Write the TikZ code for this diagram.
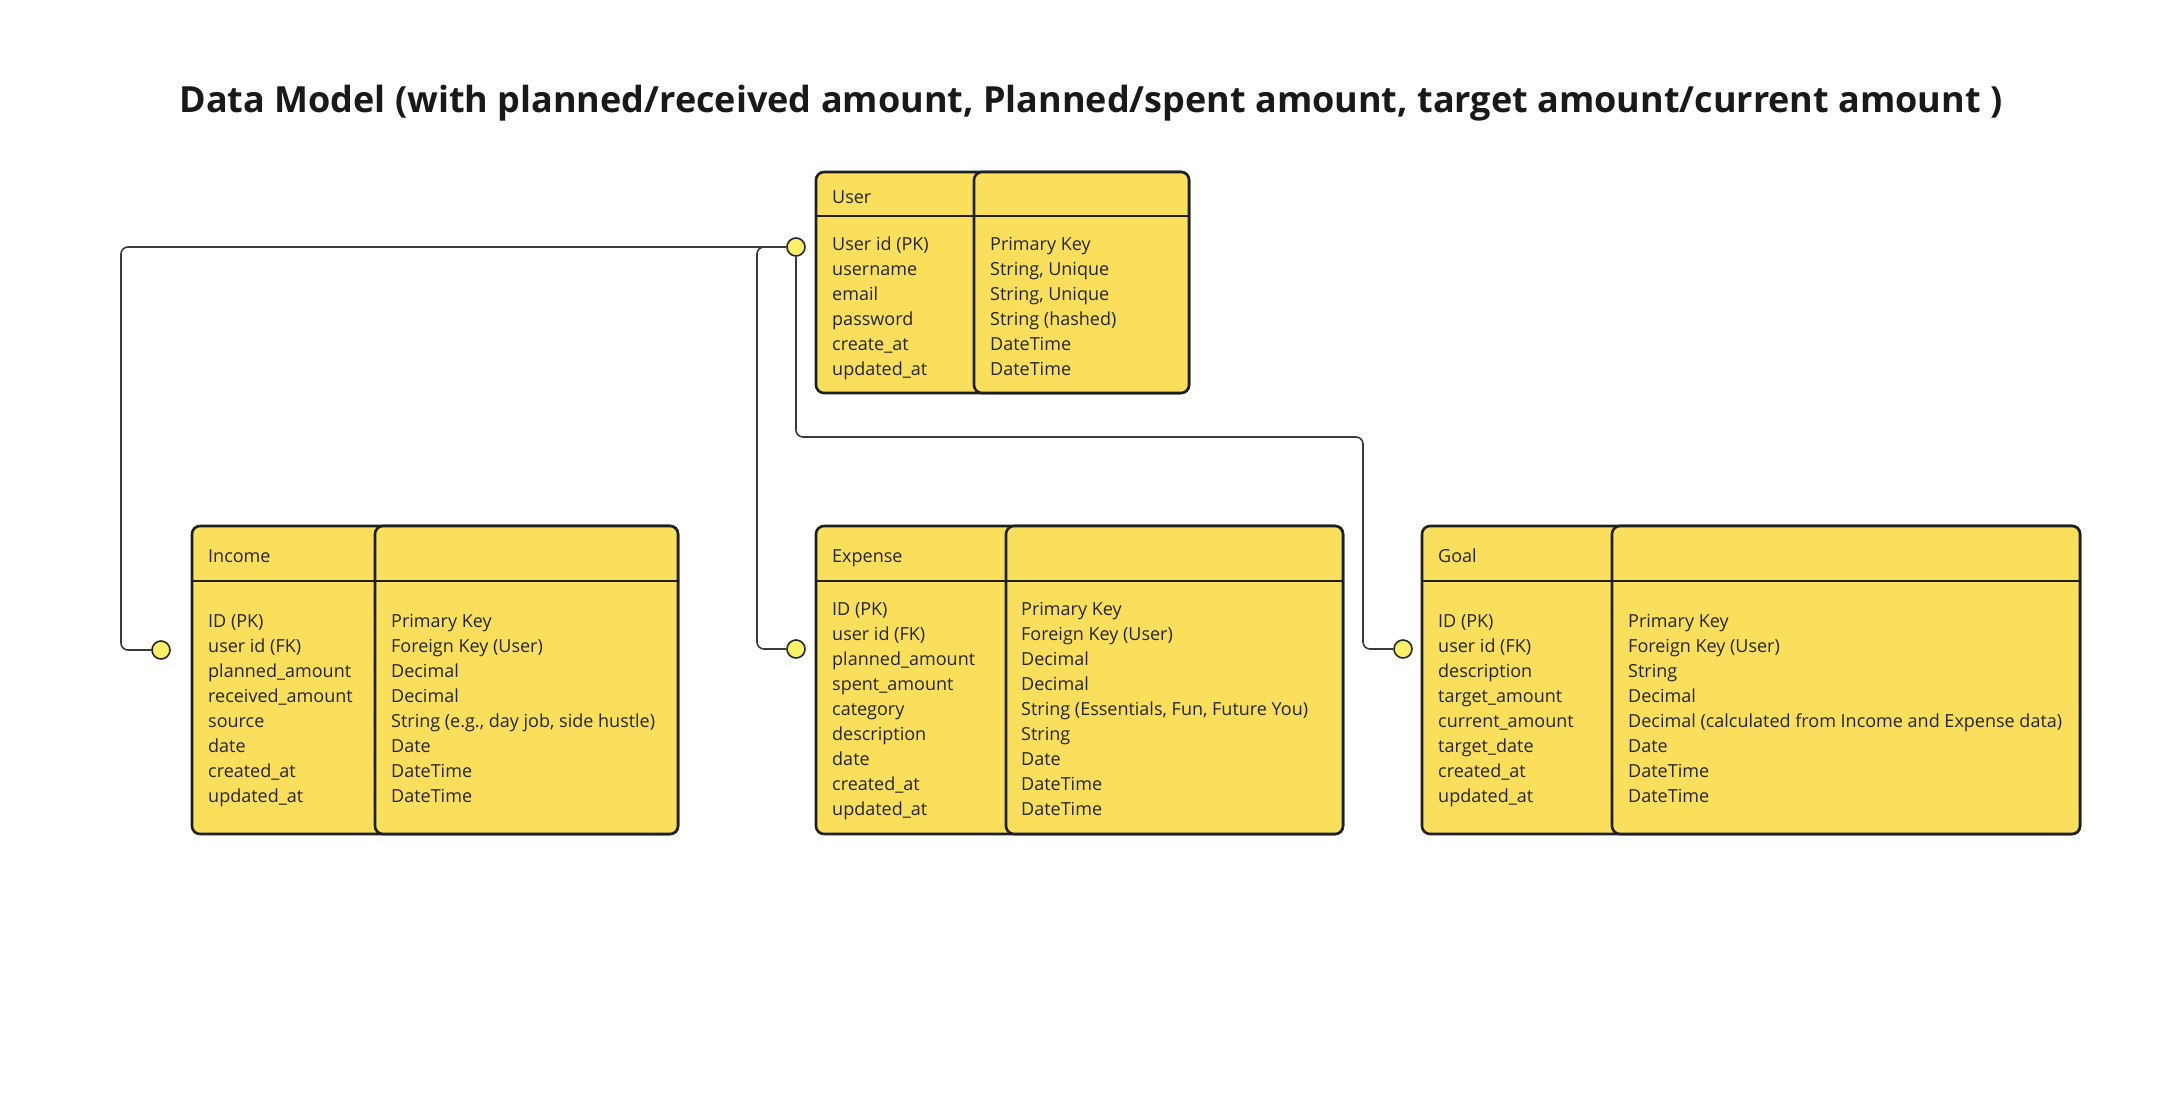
\documentclass[tikz,border=0pt]{standalone}
\usepackage{fontspec}
\setmainfont{Open Sans}
\definecolor{tabyellow}{HTML}{F9DF5B}
\definecolor{pinyellow}{HTML}{FAF067}
\definecolor{inkline}{HTML}{3A3A3A}
\tikzset{
  tbl/.style={fill=tabyellow, draw=black!88, line width=2.6pt, rounded corners=8pt},
  tblrule/.style={draw=black!88, line width=2.6pt},
  field/.style={anchor=north west, inner sep=0pt, align=left, text=black!85, font=\fontsize{18}{25}\selectfont},
  tblhead/.style={anchor=base west, inner sep=0pt, text=black!85, font=\fontsize{18}{25}\selectfont},
  pin/.style={circle, fill=pinyellow, draw=black!85, line width=1.6pt, minimum size=18pt, inner sep=0pt},
  link/.style={draw=inkline, line width=1.6pt, rounded corners=7pt},
}
% table: (left,top)(divider,right,bottom)(header rule)
\def\erbox(#1,#2)(#3,#4,#5)(#6){%
  \draw[tbl] (#1,#2) rectangle (#4,#5);
  \draw[tbl] (#3,#2) rectangle (#4,#5);
  \draw[tblrule] (#1,#6) -- (#4,#6);}

\begin{document}
\begin{tikzpicture}[x=1pt, y=-1pt]
  \useasboundingbox (0,0) rectangle (2180,1100);

  %%%%% TITLE %%%%%
  \node[font=\fontsize{36}{42}\bfseries, text=black!90] (title) at (1091,103)
    {Data Model (with planned/received amount, Planned/spent amount, target amount/current amount )};

  %%%%% USER %%%%%
  \erbox(816,172)(974,1189,393)(216);
  \node[tblhead] (userhead) at (832,203) {User};
  \node[field] (usernames) at (832,236.7) {User id (PK)\\username\\email\\password\\create\_at\\updated\_at};
  \node[field] (usertypes) at (990,236.7) {Primary Key\\String, Unique\\String, Unique\\String (hashed)\\DateTime\\DateTime};

  %%%%% INCOME %%%%%
  \erbox(192,526)(375,678,834)(581);
  \node[tblhead] (inchead) at (208,562.7) {Income};
  \node[field] (incnames) at (208,614.5) {ID (PK)\\user id (FK)\\planned\_amount\\received\_amount\\source\\date\\created\_at\\updated\_at};
  \node[field] (inctypes) at (391,614.5) {Primary Key\\Foreign Key (User)\\Decimal\\Decimal\\String (e.g., day job, side hustle)\\Date\\DateTime\\DateTime};

  %%%%% EXPENSE %%%%%
  \erbox(816,526)(1006,1343,834)(581);
  \node[tblhead] (exphead) at (832,562.7) {Expense};
  \node[field] (expnames) at (832,602.5) {ID (PK)\\user id (FK)\\planned\_amount\\spent\_amount\\category\\description\\date\\created\_at\\updated\_at};
  \node[field] (exptypes) at (1021,602.5) {Primary Key\\Foreign Key (User)\\Decimal\\Decimal\\String (Essentials, Fun, Future You)\\String\\Date\\DateTime\\DateTime};

  %%%%% GOAL %%%%%
  \erbox(1422,526)(1612,2080,834)(581);
  \node[tblhead] (goalhead) at (1438,562.7) {Goal};
  \node[field] (goalnames) at (1438,614.5) {ID (PK)\\user id (FK)\\description\\target\_amount\\current\_amount\\target\_date\\created\_at\\updated\_at};
  \node[field] (goaltypes) at (1628,614.5) {Primary Key\\Foreign Key (User)\\String\\Decimal\\Decimal (calculated from Income and Expense data)\\Date\\DateTime\\DateTime};

  %%%%% LINKS %%%%%
  \node[pin] (userpin) at (796,247) {};
  \node[pin] (incpin) at (161,650) {};
  \node[pin] (exppin) at (796,649) {};
  \node[pin] (goalpin) at (1403,649) {};

  \coordinate (incbend) at (121,247);
  \coordinate (expbend) at (757,247);
  \coordinate (goalbend) at (1363,437);

  \draw[link] (userpin) -- (incbend) |- (incpin);
  \draw[link] (userpin) -- (expbend) |- (exppin);
  \draw[link] (userpin) |- (goalbend) |- (goalpin);
\end{tikzpicture}
\end{document}
